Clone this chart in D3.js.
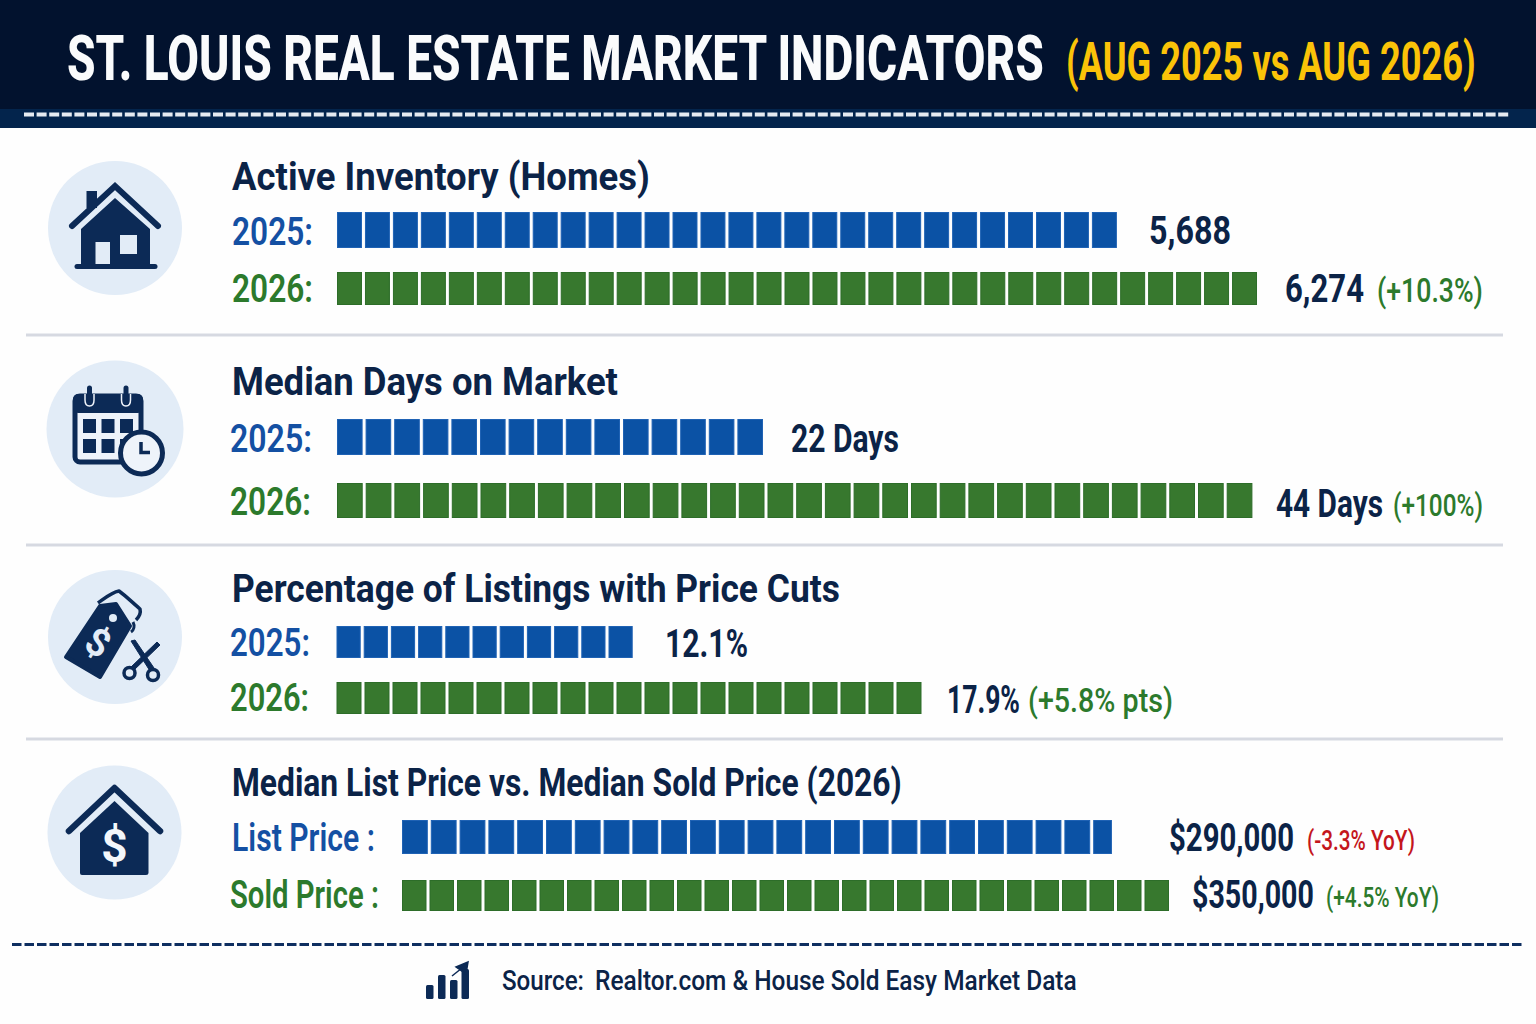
<!DOCTYPE html>
<html>
<head>
<meta charset="utf-8">
<title>St. Louis Real Estate Market Indicators</title>
<script src="https://cdn.jsdelivr.net/npm/d3@7"></script>
<style>
  html, body { margin: 0; padding: 0; background: #fefefe; }
  svg { display: block; }
  text { font-family: "Roboto", "Liberation Sans", sans-serif; }
</style>
</head>
<body>
<div id="chart"></div>
<script>
// chart values
const metricTitles = [
  "Active Inventory (Homes)",
  "Median Days on Market",
  "Percentage of Listings with Price Cuts",
  "Median List Price vs. Median Sold Price (2026)"
]
const firstLabels = ["2025:", "2025:", "2025:", "List Price :"]
const secondLabels = ["2026:", "2026:", "2026:", "Sold Price :"]
const firstValues = ["5,688", "22 Days", "12.1%", "$290,000"]
const secondValues = ["6,274", "44 Days", "17.9%", "$350,000"]
const firstChanges = ["", "", "", "(-3.3% YoY)"]
const secondChanges = ["(+10.3%)", "(+100%)", "(+5.8% pts)", "(+4.5% YoY)"]
// number of blocks in each bar (the last list price block is only partly drawn)
const firstBlocks = [28, 15, 11, 24.65]
const secondBlocks = [33, 32, 21, 28]

const titleText = "ST. LOUIS REAL ESTATE MARKET INDICATORS"
const subtitleText = "(AUG 2025 vs AUG 2026)"
const sourceLabel = "Source:"
const sourceText = "Realtor.com & House Sold Easy Market Data"

// layout, one entry per metric
const layout = [
  { title: [232, 650, 190], a: [232, 313, 245], b: [232, 313, 302], barX: 337,
    barA: { y: 212, h: 36, pitch: 27.96 }, barB: { y: 272, h: 33, pitch: 27.97 },
    valA: [1149, 1231, 244], valB: [1285, 1364, 302], chgB: [1377, 1483, 302, 33] },
  { title: [232, 618, 395], a: [230, 312, 452], b: [230, 311, 515], barX: 337,
    barA: { y: 419, h: 36, pitch: 28.6 }, barB: { y: 483, h: 35, pitch: 28.7 },
    valA: [791, 899, 452], valB: [1276, 1383, 517], chgB: [1393, 1483, 516, 31] },
  { title: [232, 840, 602], a: [230, 310, 656], b: [230, 309, 711], barX: 336.5,
    barA: { y: 626, h: 32, pitch: 27.2 }, barB: { y: 682, h: 32, pitch: 28 },
    valA: [665, 748, 657], valB: [947, 1020, 713], chgB: [1028, 1173, 712, 33] },
  { title: [232, 902, 796], a: [232, 375, 851], b: [230, 379, 908], barX: 402,
    barA: { y: 820, h: 34, pitch: 28.8 }, barB: { y: 880, h: 31, pitch: 27.5 },
    valA: [1169, 1294, 851], valB: [1192, 1314, 908],
    chgA: [1307, 1415, 850, 28], chgB: [1326, 1439, 907, 28] }
]
const dividers = [335, 545, 739]

const navy = "#0b2347"
const iconNavy = "#0c2a56"
const circleFill = "#e2ecf7"
const blue = "#0b52a5"
const green = "#37782e"
const labelBlue = "#1450a3"
const labelGreen = "#2c7a2c"
const red = "#c4161c"

const svg = d3.select("#chart").append("svg")
  .attr("width", 1536)
  .attr("height", 1024)

// text squeezed to the width it has in the picture
function addText(parent, str, x0, x1, baseline, size, weight, fill) {
  const t = parent.append("text")
    .attr("font-size", size)
    .attr("font-weight", weight)
    .attr("fill", fill)
    .text(str)
  const sx = (x1 - x0) / t.node().getComputedTextLength()
  t.attr("transform", "translate(" + x0 + "," + baseline + ") scale(" + sx + ",1)")
  return t
}

// header
svg.append("rect").attr("width", 1536).attr("height", 128).attr("fill", "#02122e")
svg.append("rect").attr("y", 109).attr("width", 1536).attr("height", 19).attr("fill", "#03244c")
svg.append("line")
  .attr("x1", 24).attr("x2", 1510).attr("y1", 114.5).attr("y2", 114.5)
  .attr("stroke", "#e6ebf1").attr("stroke-width", 4).attr("stroke-dasharray", "10 2.6")
addText(svg, titleText, 67, 1044, 80, 63, 800, "#fafbfc")
addText(svg, subtitleText, 1066, 1476, 80, 53, 700, "#fbc308")

// dividers
svg.selectAll(".divider").data(dividers).enter().append("line")
  .attr("class", "divider")
  .attr("x1", 26).attr("x2", 1503)
  .attr("y1", d => d).attr("y2", d => d)
  .attr("stroke", "#d6d9e1").attr("stroke-width", 3)

// one segmented bar
function drawBar(n, barX, bar, color, edge) {
  const x = d3.scaleLinear().domain([0, 1]).range([barX, barX + bar.pitch])
  const gap = 3
  svg.append("g").selectAll("rect")
    .data(d3.range(Math.ceil(n)))
    .enter()
    .append("rect")
    .attr("x", d => x(d) + 0.5)
    .attr("y", bar.y + 0.5)
    .attr("width", d => x(Math.min(d + 1, n)) - x(d) - (d + 1 > n ? 0 : gap) - 1)
    .attr("height", bar.h - 1)
    .attr("fill", color)
    .attr("stroke", edge)
    .attr("stroke-width", 1)
}

metricTitles.forEach(function(title, i) {
  const l = layout[i]
  addText(svg, title, l.title[0], l.title[1], l.title[2], 38, 700, navy)
  addText(svg, firstLabels[i], l.a[0], l.a[1], l.a[2], 38, 600, labelBlue)
  addText(svg, secondLabels[i], l.b[0], l.b[1], l.b[2], 38, 600, labelGreen)
  drawBar(firstBlocks[i], l.barX, l.barA, blue, "#1f62b4")
  drawBar(secondBlocks[i], l.barX, l.barB, green, "#2d6d29")
  addText(svg, firstValues[i], l.valA[0], l.valA[1], l.valA[2], 38, 700, navy)
  addText(svg, secondValues[i], l.valB[0], l.valB[1], l.valB[2], 38, 700, navy)
  if (firstChanges[i]) {
    addText(svg, firstChanges[i], l.chgA[0], l.chgA[1], l.chgA[2], l.chgA[3], 500, red)
  }
  addText(svg, secondChanges[i], l.chgB[0], l.chgB[1], l.chgB[2], l.chgB[3], 500, labelGreen)
})

// icon discs
const discs = [[115, 228, 67], [115, 429, 68.5], [115, 637, 67], [114.5, 832.5, 67]]
svg.selectAll(".disc").data(discs).enter().append("circle")
  .attr("class", "disc")
  .attr("cx", d => d[0]).attr("cy", d => d[1]).attr("r", d => d[2])
  .attr("fill", circleFill)

const icons = svg.append("g")

// house
icons.append("path").attr("d", "M86.5 208V191H97V208Z").attr("fill", iconNavy)
icons.append("path").attr("d", "M72 226L115 186L158 226")
  .attr("fill", "none").attr("stroke", iconNavy).attr("stroke-width", 6).attr("stroke-linecap", "round")
icons.append("path").attr("d", "M81 229L115 198L150 229V266H110V242H95.5V266H81Z").attr("fill", iconNavy)
icons.append("rect").attr("x", 120).attr("y", 235).attr("width", 17).attr("height", 19).attr("fill", circleFill)
icons.append("line").attr("x1", 77).attr("x2", 155).attr("y1", 266.5).attr("y2", 266.5)
  .attr("stroke", iconNavy).attr("stroke-width", 5).attr("stroke-linecap", "round")

// calendar and clock
icons.append("rect").attr("x", 75).attr("y", 396).attr("width", 66).attr("height", 66).attr("rx", 5)
  .attr("fill", "#eef3fa").attr("stroke", iconNavy).attr("stroke-width", 5)
icons.append("rect").attr("x", 73).attr("y", 394).attr("width", 70).attr("height", 19).attr("rx", 5).attr("fill", iconNavy)
;[89.5, 126].forEach(function(x) {
  icons.append("path").attr("d", `M${x - 4.5} 394V400Q${x - 4.5} 406 ${x} 406Q${x + 4.5} 406 ${x + 4.5} 400V394`)
    .attr("fill", "none").attr("stroke", "#eef3fa").attr("stroke-width", 1.5)
  icons.append("line").attr("x1", x).attr("x2", x).attr("y1", 388).attr("y2", 402)
    .attr("stroke", iconNavy).attr("stroke-width", 5).attr("stroke-linecap", "round")
})
;[[83, 419], [101.5, 419], [120, 419], [83, 439], [101.5, 439], [120, 439]].forEach(function(c) {
  icons.append("rect").attr("x", c[0]).attr("y", c[1]).attr("width", 13).attr("height", 14).attr("fill", iconNavy)
})
icons.append("circle").attr("cx", 141.5).attr("cy", 453).attr("r", 21)
  .attr("fill", "#eef3fa").attr("stroke", iconNavy).attr("stroke-width", 5)
icons.append("path").attr("d", "M141 442V452.5H150").attr("fill", "none")
  .attr("stroke", iconNavy).attr("stroke-width", 3.5)

// price tag and scissors
icons.append("path").attr("d", "M98 603C105 598 112 592 119 591C126 596 134 604 140 609C141 613 139 617 136 620")
  .attr("fill", "none").attr("stroke", iconNavy).attr("stroke-width", 3.5).attr("stroke-linejoin", "round")
icons.append("path").attr("d", "M133 622C135 626 134 630 131 632")
  .attr("fill", "none").attr("stroke", iconNavy).attr("stroke-width", 3)
icons.append("path").attr("d", "M100 606L116 604L130 626L100 677L66 657Z")
  .attr("fill", iconNavy).attr("stroke", iconNavy).attr("stroke-width", 4).attr("stroke-linejoin", "round")
icons.append("circle").attr("cx", 113).attr("cy", 618).attr("r", 4).attr("fill", circleFill)
icons.append("text").attr("transform", "translate(91.5,654) rotate(30)")
  .attr("text-anchor", "middle").attr("font-size", 38).attr("font-weight", 700).attr("fill", circleFill).text("$")
icons.append("path").attr("d", "M131 641L135 640L154 668L150 671Z").attr("fill", iconNavy).attr("stroke", iconNavy).attr("stroke-width", 1)
icons.append("path").attr("d", "M160 645L157 642L131 667L134 670Z").attr("fill", iconNavy).attr("stroke", iconNavy).attr("stroke-width", 1)
icons.append("circle").attr("cx", 129.5).attr("cy", 673).attr("r", 5.5).attr("fill", "none").attr("stroke", iconNavy).attr("stroke-width", 3.5)
icons.append("circle").attr("cx", 153).attr("cy", 675).attr("r", 5.5).attr("fill", "none").attr("stroke", iconNavy).attr("stroke-width", 3.5)

// house with dollar sign
icons.append("path").attr("d", "M69 831L114.5 788L160 831")
  .attr("fill", "none").attr("stroke", iconNavy).attr("stroke-width", 6.5).attr("stroke-linecap", "round").attr("stroke-linejoin", "round")
icons.append("path").attr("d", "M80 833L114.5 801L148.5 833V873Q148.5 875 146 875H82Q80 875 80 873Z").attr("fill", iconNavy)
icons.append("text").attr("x", 114.5).attr("y", 862)
  .attr("text-anchor", "middle").attr("font-size", 46).attr("font-weight", 700).attr("fill", "#f4f7fb").text("$")

// footer
svg.append("line")
  .attr("x1", 12).attr("x2", 1522).attr("y1", 944.5).attr("y2", 944.5)
  .attr("stroke", "#0e2e60").attr("stroke-width", 3).attr("stroke-dasharray", "9.5 3")
;[[426, 985], [438, 975], [450, 980], [461.5, 969]].forEach(function(b) {
  icons.append("rect").attr("x", b[0]).attr("y", b[1]).attr("width", 7.5).attr("height", 999 - b[1]).attr("rx", 1.5).attr("fill", iconNavy)
})
icons.append("path").attr("d", "M452 976L462 968M456 967L468 962L466 974Z")
  .attr("fill", iconNavy).attr("stroke", iconNavy).attr("stroke-width", 1.5)
addText(svg, sourceLabel, 502, 584, 990, 27, 500, navy)
addText(svg, sourceText, 595, 1077, 990, 27, 500, navy)
</script>
</body>
</html>
